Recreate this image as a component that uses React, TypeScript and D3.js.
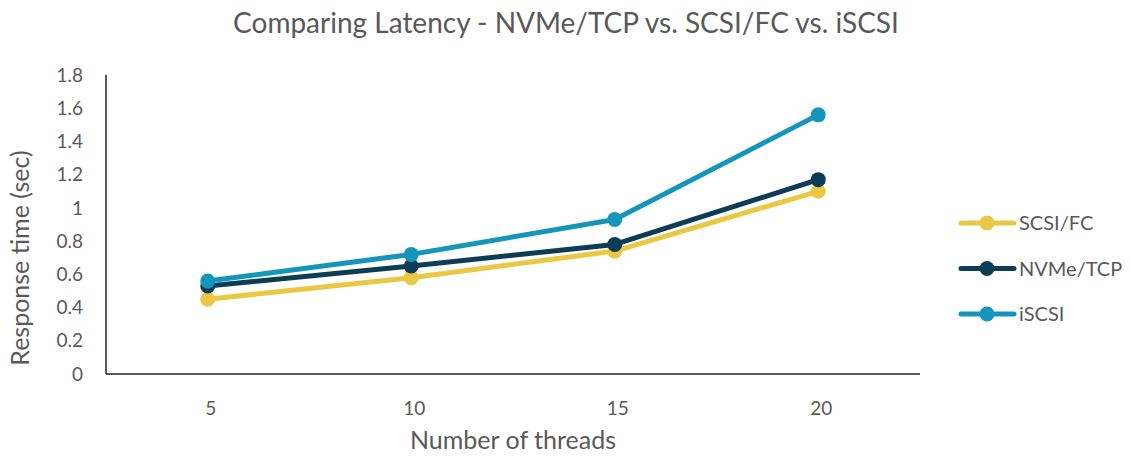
import { useEffect, useRef } from 'react'
import * as d3 from 'd3'

const threads = ['5', '10', '15', '20']
const scsiFc = [0.45, 0.58, 0.74, 1.1]
const nvmeTcp = [0.53, 0.65, 0.78, 1.17]
const iscsi = [0.56, 0.72, 0.93, 1.56]
const yTicks = [0, 0.2, 0.4, 0.6, 0.8, 1, 1.2, 1.4, 1.6, 1.8]

const series = [
  { name: 'SCSI/FC', values: scsiFc, color: '#EBC844' },
  { name: 'NVMe/TCP', values: nvmeTcp, color: '#0D3C55' },
  { name: 'iSCSI', values: iscsi, color: '#1496BB' },
]

const FONT = 'Lato, "Open Sans", sans-serif'
const TEXT = '#595959'

export default function App() {
  const svgRef = useRef<SVGSVGElement>(null)

  useEffect(() => {
    if (!svgRef.current) return
    const svg = d3.select(svgRef.current)
    svg.selectAll('*').remove()

    const width = 1131
    const height = 458
    const left = 106
    const right = 920
    const top = 75
    const bottom = 374

    svg.attr('width', width).attr('height', height)

    const x = d3.scalePoint<string>().domain(threads).range([left, right]).padding(0.5)
    const y = d3.scaleLinear().domain([0, 1.8]).range([bottom, top])

    // title
    svg.append('text')
      .attr('x', 566)
      .attr('y', 33)
      .attr('text-anchor', 'middle')
      .attr('font-family', FONT)
      .attr('font-size', 28)
      .attr('fill', TEXT)
      .text('Comparing Latency - NVMe/TCP vs. SCSI/FC vs. iSCSI')

    // y tick labels
    svg.append('g')
      .selectAll('text')
      .data(yTicks)
      .enter()
      .append('text')
      .attr('x', 83)
      .attr('y', d => y(d))
      .attr('dy', '0.35em')
      .attr('text-anchor', 'end')
      .attr('font-family', FONT)
      .attr('font-size', 19)
      .attr('fill', TEXT)
      .text(d => d3.format('~g')(d))

    // x tick labels
    svg.append('g')
      .selectAll('text')
      .data(threads)
      .enter()
      .append('text')
      .attr('x', d => x(d)! + 3)
      .attr('y', 408)
      .attr('dy', '0.35em')
      .attr('text-anchor', 'middle')
      .attr('font-family', FONT)
      .attr('font-size', 19)
      .attr('fill', TEXT)
      .text(d => d)

    // axis titles
    svg.append('text')
      .attr('x', 513)
      .attr('y', 440)
      .attr('dy', '0.35em')
      .attr('text-anchor', 'middle')
      .attr('font-family', FONT)
      .attr('font-size', 25)
      .attr('fill', TEXT)
      .text('Number of threads')

    svg.append('text')
      .attr('transform', 'translate(20,258) rotate(-90)')
      .attr('dy', '0.35em')
      .attr('text-anchor', 'middle')
      .attr('font-family', FONT)
      .attr('font-size', 25)
      .attr('fill', TEXT)
      .text('Response time (sec)')

    // axes
    svg.append('line')
      .attr('x1', left).attr('x2', left)
      .attr('y1', top).attr('y2', bottom)
      .attr('stroke', '#222').attr('stroke-width', 1.5)
    svg.append('line')
      .attr('x1', left).attr('x2', right)
      .attr('y1', bottom).attr('y2', bottom)
      .attr('stroke', '#222').attr('stroke-width', 1.5)

    const line = d3.line<number>()
      .x((_, i) => x(threads[i])!)
      .y(d => y(d))

    series.forEach(s => {
      const g = svg.append('g')
      g.append('path')
        .attr('d', line(s.values))
        .attr('fill', 'none')
        .attr('stroke', s.color)
        .attr('stroke-width', 5)
        .attr('stroke-linejoin', 'round')
      g.selectAll('circle')
        .data(s.values)
        .enter()
        .append('circle')
        .attr('cx', (_, i) => x(threads[i])!)
        .attr('cy', d => y(d))
        .attr('r', 7.5)
        .attr('fill', s.color)
    })

    // legend
    const legend = svg.append('g')
    series.forEach((s, i) => {
      const ly = 223 + i * 45.5
      legend.append('line')
        .attr('x1', 961).attr('x2', 1014)
        .attr('y1', ly).attr('y2', ly)
        .attr('stroke', s.color).attr('stroke-width', 5)
        .attr('stroke-linecap', 'round')
      legend.append('circle')
        .attr('cx', 987).attr('cy', ly).attr('r', 7.5)
        .attr('fill', s.color)
      legend.append('text')
        .attr('x', 1019)
        .attr('y', ly)
        .attr('dy', '0.35em')
        .attr('font-family', FONT)
        .attr('font-size', 20)
        .attr('fill', TEXT)
        .text(s.name)
    })
  }, [])

  return (
    <div style={{ margin: -8 }}>
      <svg ref={svgRef} style={{ display: 'block' }} />
    </div>
  )
}
